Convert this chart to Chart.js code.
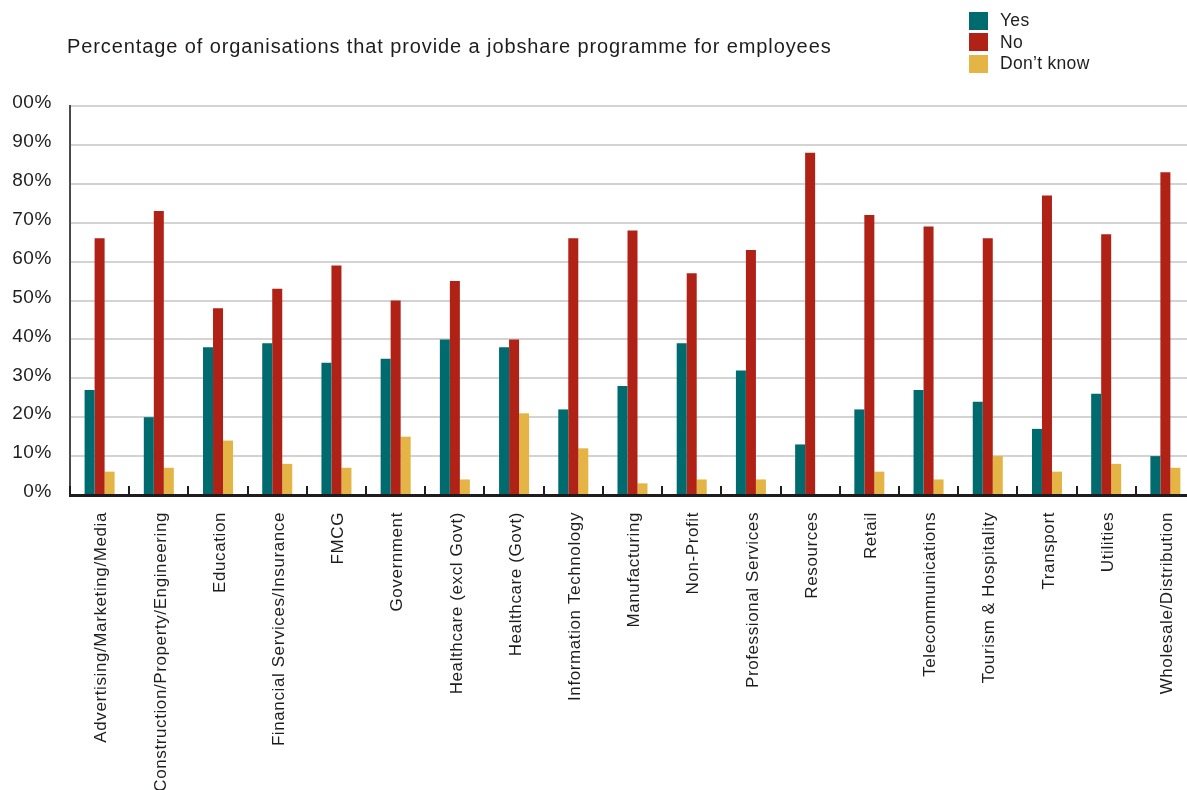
<!DOCTYPE html>
<html>
<head>
<meta charset="utf-8">
<script src="https://cdn.jsdelivr.net/npm/chart.js@4"></script>
<style>
  html, body { margin: 0; padding: 0; background: #fff; overflow: hidden; }
  body { width: 1187px; height: 790px; position: relative; font-family: "Liberation Sans", Arial, sans-serif; color: #1f1c1d; }
  #wrap { position: absolute; left: 0; top: 0; width: 1195px; height: 790px; }
  canvas { display: block; }
  #title { position: absolute; left: 67px; top: 37px; font-size: 20px; line-height: 19px; letter-spacing: 0.9px; white-space: nowrap; }
  #legend { position: absolute; left: 969px; top: 10px; }
  .item { display: flex; align-items: center; height: 21.5px; font-size: 17.5px; letter-spacing: 0.3px; }
  .swatch { width: 19px; height: 18px; margin-right: 12px; }
</style>
</head>
<body>
<div id="wrap"><canvas id="chart" width="1195" height="790"></canvas></div>
<div id="title">Percentage of organisations that provide a jobshare programme for employees</div>
<div id="legend"></div>
<script>
let sectors = [
  'Advertising/Marketing/Media', 'Construction/Property/Engineering', 'Education',
  'Financial Services/Insurance', 'FMCG', 'Government', 'Healthcare (excl Govt)',
  'Healthcare (Govt)', 'Information Technology', 'Manufacturing', 'Non-Profit',
  'Professional Services', 'Resources', 'Retail', 'Telecommunications',
  'Tourism & Hospitality', 'Transport', 'Utilities', 'Wholesale/Distribution'
];
let yes      = [27, 20, 38, 39, 34, 35, 40, 38, 22, 28, 39, 32, 13, 22, 27, 24, 17, 26, 10];
let no       = [66, 73, 48, 53, 59, 50, 55, 40, 66, 68, 57, 63, 88, 72, 69, 66, 77, 67, 83];
let dontKnow = [ 6,  7, 14,  8,  7, 15,  4, 21, 12,  3,  4,  4,  0,  6,  4, 10,  6,  8,  7];

let seriesNames  = ['Yes', 'No', 'Don\u2019t know'];
let seriesColors = ['#006b6e', '#b12216', '#e4b545'];
let yTickLabels  = ['0%', '10%', '20%', '30%', '40%', '50%', '60%', '70%', '80%', '90%', '00%'];

let textColor = '#1f1c1d';
let fontFamily = '"Liberation Sans", Arial, sans-serif';

// small marks between the categories, standing on the baseline
let boundaryTicks = {
  id: 'boundaryTicks',
  afterDatasetsDraw(chart) {
    let x = chart.scales.x;
    let ctx = chart.ctx;
    let bottom = chart.chartArea.bottom;
    ctx.save();
    ctx.strokeStyle = textColor;
    ctx.lineWidth = 2;
    for (let i = 0; i <= sectors.length; i++) {
      let px = Math.round((x.getPixelForValue(i - 1) + x.getPixelForValue(i)) / 2);
      ctx.beginPath();
      ctx.moveTo(px, bottom - 9);
      ctx.lineTo(px, bottom);
      ctx.stroke();
    }
    ctx.restore();
  }
};

// the original type is a little tracked out
let tracking = {
  id: 'tracking',
  beforeUpdate(chart) { chart.ctx.letterSpacing = '0.6px'; },
  beforeDraw(chart) { chart.ctx.letterSpacing = '0.6px'; }
};

function generateChart() {
  let context = document.getElementById('chart').getContext('2d');
  let series = [yes, no, dontKnow];
  let chart = new Chart(context, {
    type: 'bar',
    data: {
      labels: sectors,
      datasets: series.map((values, i) => ({
        label: seriesNames[i],
        data: values,
        backgroundColor: seriesColors[i],
        borderWidth: 0,
        categoryPercentage: 0.507,
        barPercentage: 1.0
      }))
    },
    options: {
      responsive: false,
      animation: false,
      layout: { padding: { top: 106, left: 0, right: 0, bottom: 0 } },
      plugins: {
        legend: { display: false },
        title: { display: false },
        tooltip: { enabled: false }
      },
      scales: {
        x: {
          grid: { display: true, drawOnChartArea: false, drawTicks: false },
          border: { color: textColor, width: 3, z: 1 },
          ticks: {
            autoSkip: false,
            maxRotation: 90,
            minRotation: 90,
            padding: 17,
            labelOffset: 2,
            color: textColor,
            font: { family: fontFamily, size: 17 }
          },
          afterFit(scale) {
            scale.height = 295;
            scale.paddingLeft = 0;
            scale.paddingRight = 0;
          }
        },
        y: {
          min: 0,
          max: 100,
          grid: { color: '#d3d3d3', lineWidth: 2, drawTicks: false },
          border: { color: '#4a4a4a', width: 2 },
          ticks: {
            stepSize: 10,
            padding: 18,
            labelOffset: -3,
            color: textColor,
            font: { family: fontFamily, size: 19 },
            callback: (value, index) => yTickLabels[index]
          },
          afterFit(scale) {
            scale.width = 70;
            scale.paddingTop = 0;
            scale.paddingBottom = 0;
          }
        }
      }
    },
    plugins: [tracking, boundaryTicks]
  });
  return chart;
}

function buildLegend() {
  let box = document.getElementById('legend');
  seriesNames.forEach((name, i) => {
    let row = document.createElement('div');
    row.className = 'item';
    let sw = document.createElement('span');
    sw.className = 'swatch';
    sw.style.background = seriesColors[i];
    let txt = document.createElement('span');
    txt.textContent = name;
    row.appendChild(sw);
    row.appendChild(txt);
    box.appendChild(row);
  });
}

buildLegend();
generateChart();
</script>
</body>
</html>
